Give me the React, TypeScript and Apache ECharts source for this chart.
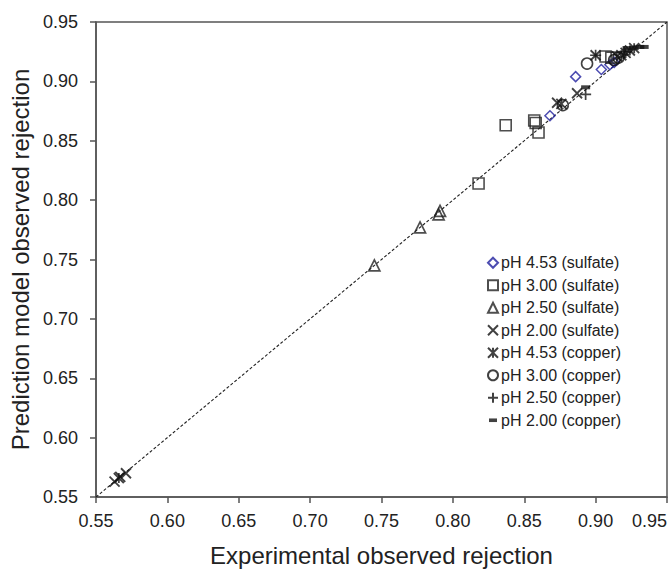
import React, { useEffect, useRef } from "react";
import * as echarts from "echarts";

// [experimental, predicted]
const sulfate453: number[][] = [
  [0.868, 0.871], [0.886, 0.904], [0.904, 0.910], [0.910, 0.914], [0.913, 0.916],
];
const sulfate300: number[][] = [
  [0.818, 0.814], [0.837, 0.863], [0.857, 0.867], [0.858, 0.865], [0.860, 0.857],
  [0.907, 0.921], [0.911, 0.920],
];
const sulfate250: number[][] = [
  [0.745, 0.745], [0.777, 0.777], [0.790, 0.788], [0.791, 0.791],
];
const sulfate200: number[][] = [
  [0.563, 0.563], [0.567, 0.567], [0.571, 0.570],
  [0.873, 0.882], [0.887, 0.890], [0.900, 0.922], [0.915, 0.921],
];
const copper453: number[][] = [
  [0.566, 0.566], [0.876, 0.881], [0.918, 0.922], [0.921, 0.924], [0.924, 0.926], [0.927, 0.928],
];
const copper300: number[][] = [
  [0.877, 0.880], [0.894, 0.915], [0.913, 0.918], [0.916, 0.920],
];
const copper250: number[][] = [
  [0.900, 0.922], [0.893, 0.889], [0.920, 0.925],
];
const copper200: number[][] = [
  [0.893, 0.895], [0.922, 0.928], [0.927, 0.928], [0.931, 0.929], [0.934, 0.929],
];
const diagonal: number[][] = [[0.55, 0.55], [0.95, 0.95]];

const seriesNames = [
  "pH 4.53 (sulfate)",
  "pH 3.00 (sulfate)",
  "pH 2.50 (sulfate)",
  "pH 2.00 (sulfate)",
  "pH 4.53 (copper)",
  "pH 3.00 (copper)",
  "pH 2.50 (copper)",
  "pH 2.00 (copper)",
];

const FONT = "Liberation Sans, Arial, sans-serif";

export default function App() {
  const ref = useRef<HTMLDivElement>(null);
  useEffect(() => {
    if (!ref.current) return;
    const chart = echarts.init(ref.current, undefined, { renderer: "svg" });
    const open = (color: string, w = 1.5) => ({
      color: "rgba(0,0,0,0)",
      borderColor: color,
      borderWidth: w,
    });
    const X = "path://M0,0L10,10M10,0L0,10";
    const PLUS = "path://M5,0L5,10M0,5L10,5";
    const AST = "path://M0,0L10,10M10,0L0,10M5,0L5,10";
    const DASH_ICON = "path://M0,0M10,10M1,3.2H9V6.8H1Z";
    const mk = (name: string, data: number[][], symbol: string, size: any, itemStyle: any) => ({
      name,
      type: "scatter",
      data,
      symbol,
      symbolSize: size,
      itemStyle,
      z: 3,
    });
    chart.setOption({
      animation: false,
      backgroundColor: "#fff",
      grid: {
        left: 96,
        right: 4,
        top: 22,
        bottom: 73,
        outerBoundsMode: "none",
        containLabel: false,
        show: true,
        borderColor: "#555",
        borderWidth: 1.5,
        backgroundColor: "transparent",
      },
      legend: {
        orient: "vertical",
        left: 482,
        top: 249,
        itemWidth: 10,
        itemHeight: 10,
        itemGap: 5,
        data: seriesNames.map((n, i) => (i === 7 ? { name: n, icon: DASH_ICON } : { name: n })),
        textStyle: {
          fontFamily: FONT,
          fontSize: 16,
          color: "#222",
          lineHeight: 17.5,
          padding: [0, 0, 0, -2],
        },
      },
      xAxis: {
        type: "value",
        min: 0.55,
        max: 0.95,
        interval: 0.05,
        name: "Experimental observed rejection",
        nameLocation: "middle",
        nameGap: 46,
        nameTextStyle: { fontFamily: FONT, fontSize: 24, color: "#222" },
        axisLine: { lineStyle: { color: "#555", width: 1.5 } },
        axisTick: { inside: false, length: 6, lineStyle: { color: "#555", width: 1.5 } },
        axisLabel: {
          fontFamily: FONT,
          fontSize: 18,
          color: "#222",
          margin: 15,
          hideOverlap: false,
          alignMaxLabel: "right",
          formatter: (v: number) => v.toFixed(2),
        },
        splitLine: { show: false },
      },
      yAxis: {
        type: "value",
        min: 0.55,
        max: 0.95,
        interval: 0.05,
        name: "Prediction model observed rejection",
        nameLocation: "middle",
        nameGap: 62,
        nameTextStyle: { fontFamily: FONT, fontSize: 24, color: "#222" },
        axisLine: { lineStyle: { color: "#555", width: 1.5 } },
        axisTick: { inside: false, length: 6, lineStyle: { color: "#555", width: 1.5 } },
        axisLabel: {
          fontFamily: FONT,
          fontSize: 18,
          color: "#222",
          margin: 18,
          formatter: (v: number) => v.toFixed(2),
        },
        splitLine: { show: false },
      },
      series: [
        {
          name: "diagonal",
          type: "line",
          data: diagonal,
          symbol: "none",
          lineStyle: { color: "#222", width: 1.1, type: [3, 2] },
          z: 2,
          silent: true,
        },
        mk(seriesNames[0], sulfate453, "diamond", 10, open("#1f1f9e", 1.5)),
        mk(seriesNames[1], sulfate300, "rect", 11, open("#222", 1.6)),
        mk(seriesNames[2], sulfate250, "triangle", 11, open("#222", 1.7)),
        mk(seriesNames[3], sulfate200, X, 10, open("#111", 1.8)),
        mk(seriesNames[4], copper453, AST, 10, open("#111", 1.8)),
        mk(seriesNames[5], copper300, "circle", 11, open("#111", 1.6)),
        mk(seriesNames[6], copper250, PLUS, 11, open("#111", 1.7)),
        mk(seriesNames[7], copper200, "rect", [9, 4], { color: "#111" }),
      ],
    });
    return () => chart.dispose();
  }, []);
  return (
    <div
      ref={ref}
      style={{ position: "absolute", left: 0, top: 0, width: 671, height: 570 }}
    />
  );
}
